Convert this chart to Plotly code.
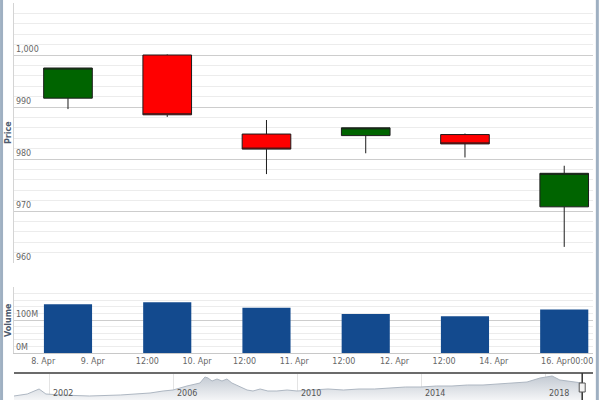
import plotly.graph_objects as go

# ---------------- data ----------------
dates = ["2018-04-09", "2018-04-10", "2018-04-11", "2018-04-12", "2018-04-13", "2018-04-16"]
open_ = [991.7, 1000.0, 984.8, 984.5, 984.7, 970.8]
high = [997.5, 1000.1, 987.5, 986.0, 984.9, 978.7]
low = [989.6, 988.1, 977.1, 981.1, 980.3, 963.1]
close = [997.5, 988.5, 981.9, 986.0, 982.9, 977.25]
volume = [148e6, 154e6, 137e6, 118e6, 111e6, 132e6]

x_tick_vals = [-0.25, 0.25, 0.8, 1.3, 1.78, 2.28, 2.78, 3.29, 3.79, 4.29, 5.03]
x_tick_text = ["8. Apr", "9. Apr", "12:00", "10. Apr", "12:00", "11. Apr", "12:00",
               "12. Apr", "12:00", "14. Apr", "16. Apr00:00"]

price_ticks = [960, 970, 980, 990, 1000, 1010]
price_tick_text = ["960", "970", "980", "990", "1,000", ""]
vol_ticks = [0, 100e6, 200e6]
vol_tick_text = ["0M", "100M", ""]

nav_years = [2000.87, 2001.3, 2001.68, 2001.9, 2002.4, 2003.3, 2004.3, 2005.26, 2005.68, 2006.0,
             2006.45, 2006.87, 2007.03, 2007.13, 2007.26, 2007.42, 2007.58, 2007.74, 2007.9, 2008.1,
             2008.39, 2008.58, 2008.81, 2009.06, 2009.35, 2009.68, 2010.0, 2010.5, 2011.0, 2011.5,
             2012.0, 2012.5, 2013.0, 2013.5, 2014.0, 2014.5, 2015.0, 2015.5, 2016.0, 2016.5,
             2017.0, 2017.42, 2017.84, 2018.23, 2018.48, 2018.9, 2019.2]
nav_values = [4, 6, 11, 6, 5, 4, 5, 7, 9, 10,
              14, 17, 23, 22, 19, 21, 19, 21, 17, 14,
              10, 9, 11, 9, 9, 10, 9, 10, 11, 10,
              11, 11, 12, 13, 13, 14, 14, 15, 15, 16,
              17, 18, 22, 24, 20, 18, 17]
nav_label_years = [2002, 2006, 2010, 2014, 2018]

idx = list(range(len(dates)))

# ---------------- figure ----------------
fig = go.Figure()

fig.add_trace(go.Candlestick(
    x=idx, open=open_, high=high, low=low, close=close,
    text=dates, hoverinfo="text+y",
    increasing=dict(fillcolor="#006400", line=dict(color="#1c1c1c", width=1)),
    decreasing=dict(fillcolor="#ff0000", line=dict(color="#1c1c1c", width=1)),
    whiskerwidth=0, xaxis="x", yaxis="y", showlegend=False,
))

fig.add_trace(go.Bar(
    x=idx, y=volume, width=0.485, text=dates, textposition="none",
    marker=dict(color="#134a8e", line=dict(width=0)),
    xaxis="x2", yaxis="y2", showlegend=False,
))

fig.add_trace(go.Scatter(
    x=nav_years, y=nav_values, mode="lines", fill="tozeroy",
    line=dict(color="#aeb7c2", width=1),
    fillgradient=dict(type="vertical", colorscale=[[0, "#f4f5f7"], [1, "#c3cad3"]]),
    xaxis="x3", yaxis="y3", showlegend=False, hoverinfo="skip",
))

tickfont = dict(family="DejaVu Sans", size=8, color="#666666")

fig.update_layout(
    width=600, height=400,
    margin=dict(l=14, r=7, t=0, b=0),
    paper_bgcolor="white", plot_bgcolor="white",
    boxgap=0.3, boxgroupgap=0.3,
    xaxis=dict(domain=[0, 1], anchor="y", range=[-0.544, 5.29], showticklabels=False,
               showgrid=False, zeroline=False, rangeslider=dict(visible=False)),
    yaxis=dict(domain=[0.3425, 0.9925], range=[960, 1010], tickmode="array",
               tickvals=price_ticks, ticktext=price_tick_text, ticklabelposition="inside top",
               tickfont=tickfont, gridcolor="#cdcdcd", gridwidth=1, zeroline=False,
               showline=True, linecolor="#d4d4d4", linewidth=1,
               minor=dict(tick0=960, dtick=2, showgrid=True, gridcolor="#ececec", gridwidth=1)),
    xaxis2=dict(domain=[0, 1], anchor="y2", matches="x", range=[-0.544, 5.29], tickmode="array",
                tickvals=x_tick_vals, ticktext=x_tick_text, tickfont=tickfont,
                showgrid=False, zeroline=False, ticks="", showline=True,
                linecolor="#c8c8c8", linewidth=1),
    yaxis2=dict(domain=[0.1175, 0.2825], range=[0, 200e6], tickmode="array",
                tickvals=vol_ticks, ticktext=vol_tick_text, ticklabelposition="inside top",
                tickfont=tickfont, gridcolor="#cdcdcd", zeroline=False,
                showline=True, linecolor="#d4d4d4", linewidth=1,
                minor=dict(tick0=0, dtick=20e6, showgrid=True, gridcolor="#ececec", gridwidth=1)),
    xaxis3=dict(domain=[0, 1], anchor="y3", range=[2000.871, 2019.548], tickmode="array",
                tickvals=nav_label_years, showticklabels=False, showgrid=True,
                gridcolor="#e4e4e4", zeroline=False),
    yaxis3=dict(domain=[0, 0.0675], range=[0, 27], visible=False, showgrid=False),
    hovermode="closest",
)

annotations = [
    dict(text="<b>Price</b>", xref="paper", yref="paper", x=-0.0103, y=(0.3425 + 0.9925) / 2,
         textangle=-90, showarrow=False, xanchor="center", yanchor="middle",
         font=dict(family="DejaVu Sans", size=8, color="#4d5a6e")),
    dict(text="<b>Volume</b>", xref="paper", yref="paper", x=-0.0103, y=(0.1175 + 0.2825) / 2,
         textangle=-90, showarrow=False, xanchor="center", yanchor="middle",
         font=dict(family="DejaVu Sans", size=8, color="#4d5a6e")),
]
for yr in nav_label_years:
    annotations.append(dict(text=str(yr), xref="x3", yref="paper", x=yr, y=0.0175,
                            xanchor="left", yanchor="middle", xshift=2, showarrow=False,
                            font=dict(family="DejaVu Sans", size=8, color="#555555")))
fig.update_layout(annotations=annotations)

shapes = [
    # navigator top outline
    dict(type="line", xref="paper", yref="paper", x0=0, x1=1, y0=0.0675, y1=0.0675,
         line=dict(color="#6b6b6b", width=2)),
    # navigator handle line and grip at end of data
    dict(type="line", xref="x3", yref="paper", x0=nav_years[-1], x1=nav_years[-1],
         y0=0, y1=0.0675, line=dict(color="#333333", width=1.5)),
    dict(type="rect", xref="x3", yref="paper", x0=nav_years[-1], x1=nav_years[-1],
         xsizemode="pixel", xanchor=nav_years[-1],
         y0=0.02, y1=0.0425, line=dict(color="#555555", width=1), fillcolor="#f2f2f2"),
    # outer frame lines
    dict(type="line", xref="paper", yref="paper", x0=-0.0215, x1=-0.0215, y0=0, y1=1,
         line=dict(color="#9fb0c2", width=3)),
    dict(type="line", xref="paper", yref="paper", x0=1.0075, x1=1.0075, y0=0, y1=1,
         line=dict(color="#9fb0c2", width=3)),
]
shapes[2].update(x0=-3, x1=3)
fig.update_layout(shapes=shapes)

fig.write_html("out.html")
